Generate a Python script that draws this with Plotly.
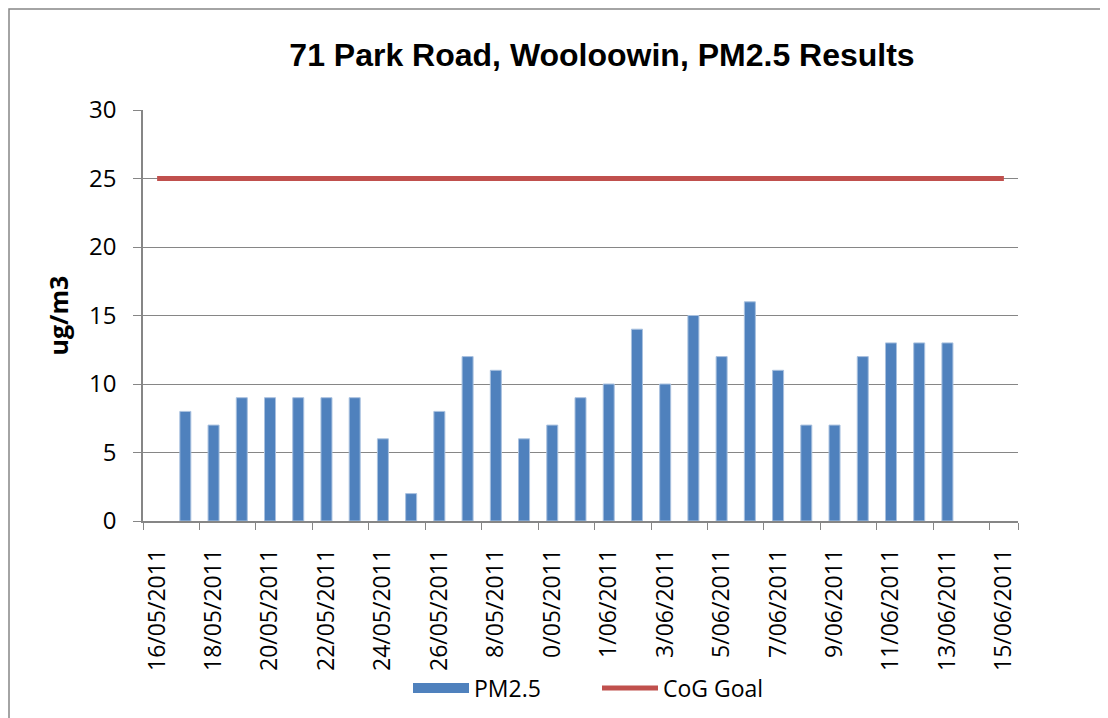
import plotly.graph_objects as go

# all days on the category axis
dates = ["16/05/2011", "17/05/2011", "18/05/2011", "19/05/2011", "20/05/2011",
         "21/05/2011", "22/05/2011", "23/05/2011", "24/05/2011", "25/05/2011",
         "26/05/2011", "27/05/2011", "28/05/2011", "29/05/2011", "30/05/2011",
         "31/05/2011", "1/06/2011", "2/06/2011", "3/06/2011", "4/06/2011",
         "5/06/2011", "6/06/2011", "7/06/2011", "8/06/2011", "9/06/2011",
         "10/06/2011", "11/06/2011", "12/06/2011", "13/06/2011", "14/06/2011",
         "15/06/2011"]

pm_dates = dates[1:29]
pm25 = [8, 7, 9, 9, 9, 9, 9, 6, 2, 8, 12, 11, 6, 7, 9, 10, 14, 10, 15, 12, 16,
        11, 7, 7, 12, 13, 13, 13]

goal = [25] * len(dates)

# labels as they show on the chart (two of them got cut off)
tick_vals = dates[::2]
tick_text = ["16/05/2011", "18/05/2011", "20/05/2011", "22/05/2011", "24/05/2011",
             "26/05/2011", "8/05/2011", "0/05/2011", "1/06/2011", "3/06/2011",
             "5/06/2011", "7/06/2011", "9/06/2011", "11/06/2011", "13/06/2011",
             "15/06/2011"]

grey = "#868686"
blue = "#4F81BD"
red = "#C0504D"
txt_font = "Open Sans"

# page has an 8px body margin, so the figure sits at (8, 8)
L, R, T, B = 135, 98, 102, 205
pw = 1108 - L - R
ph = 718 - T - B

fig = go.Figure()
fig.add_trace(go.Bar(x=pm_dates, y=pm25, name="PM2.5", showlegend=False,
                     legendgroup="pm",
                     marker=dict(color=blue, line=dict(color="#A9C1DF", width=1))))
# wide flat swatch for the bar series in the legend (excel style)
fig.add_trace(go.Scatter(x=[None], y=[None], mode="lines", name="PM2.5",
                         legendgroup="pm", line=dict(color=blue, width=14)))
fig.add_trace(go.Scatter(x=dates, y=goal, mode="lines", name="CoG Goal",
                         line=dict(color=red, width=5)))

fig.update_layout(
    width=1108, height=718,
    margin=dict(l=L, r=R, t=T, b=B),
    paper_bgcolor="white", plot_bgcolor="white",
    bargap=0.61,
    title=dict(text="<b>71 Park Road, Wooloowin, PM2.5 Results</b>",
               font=dict(family="Liberation Sans", size=32, color="black"),
               x=594 / 1108, xanchor="center", y=1 - 47 / 718, yanchor="middle"),
    font=dict(family=txt_font, size=23, color="black"),
    legend=dict(orientation="h", x=(400 - L) / pw, xanchor="left",
                y=-(680 - 513) / ph, yanchor="middle", bgcolor="rgba(0,0,0,0)",
                font=dict(size=23), itemwidth=56, entrywidth=118),
    shapes=[dict(type="rect", xref="paper", yref="paper",
                 x0=-(L - 1) / pw, x1=1.5, y0=-1, y1=1 + (T - 1) / ph,
                 line=dict(color=grey, width=1.5), layer="below")],
    annotations=[dict(text="<b>ug/m3</b>", textangle=-90, showarrow=False,
                      xref="paper", yref="paper", x=-(L - 49) / pw, y=0.5,
                      xanchor="center", yanchor="middle",
                      font=dict(family=txt_font, size=25))],
)

fig.update_xaxes(type="category", categoryorder="array", categoryarray=dates,
                 range=[-0.5, len(dates) - 0.5],
                 tickmode="array", tickvals=tick_vals, ticktext=tick_text,
                 tickson="boundaries", ticks="outside", ticklen=7, tickcolor=grey,
                 tickangle=-90, showgrid=False, showline=True, linecolor=grey,
                 linewidth=1.5, ticklabelstandoff=17, tickfont=dict(size=23))
fig.update_yaxes(range=[0, 30], dtick=5, ticks="outside", ticklen=8, tickcolor=grey,
                 showgrid=True, gridcolor=grey, gridwidth=1.2, showline=True,
                 linecolor=grey, linewidth=1.5, zeroline=False, ticklabelstandoff=12,
                 tickfont=dict(size=24))

fig.write_html("out.html")
